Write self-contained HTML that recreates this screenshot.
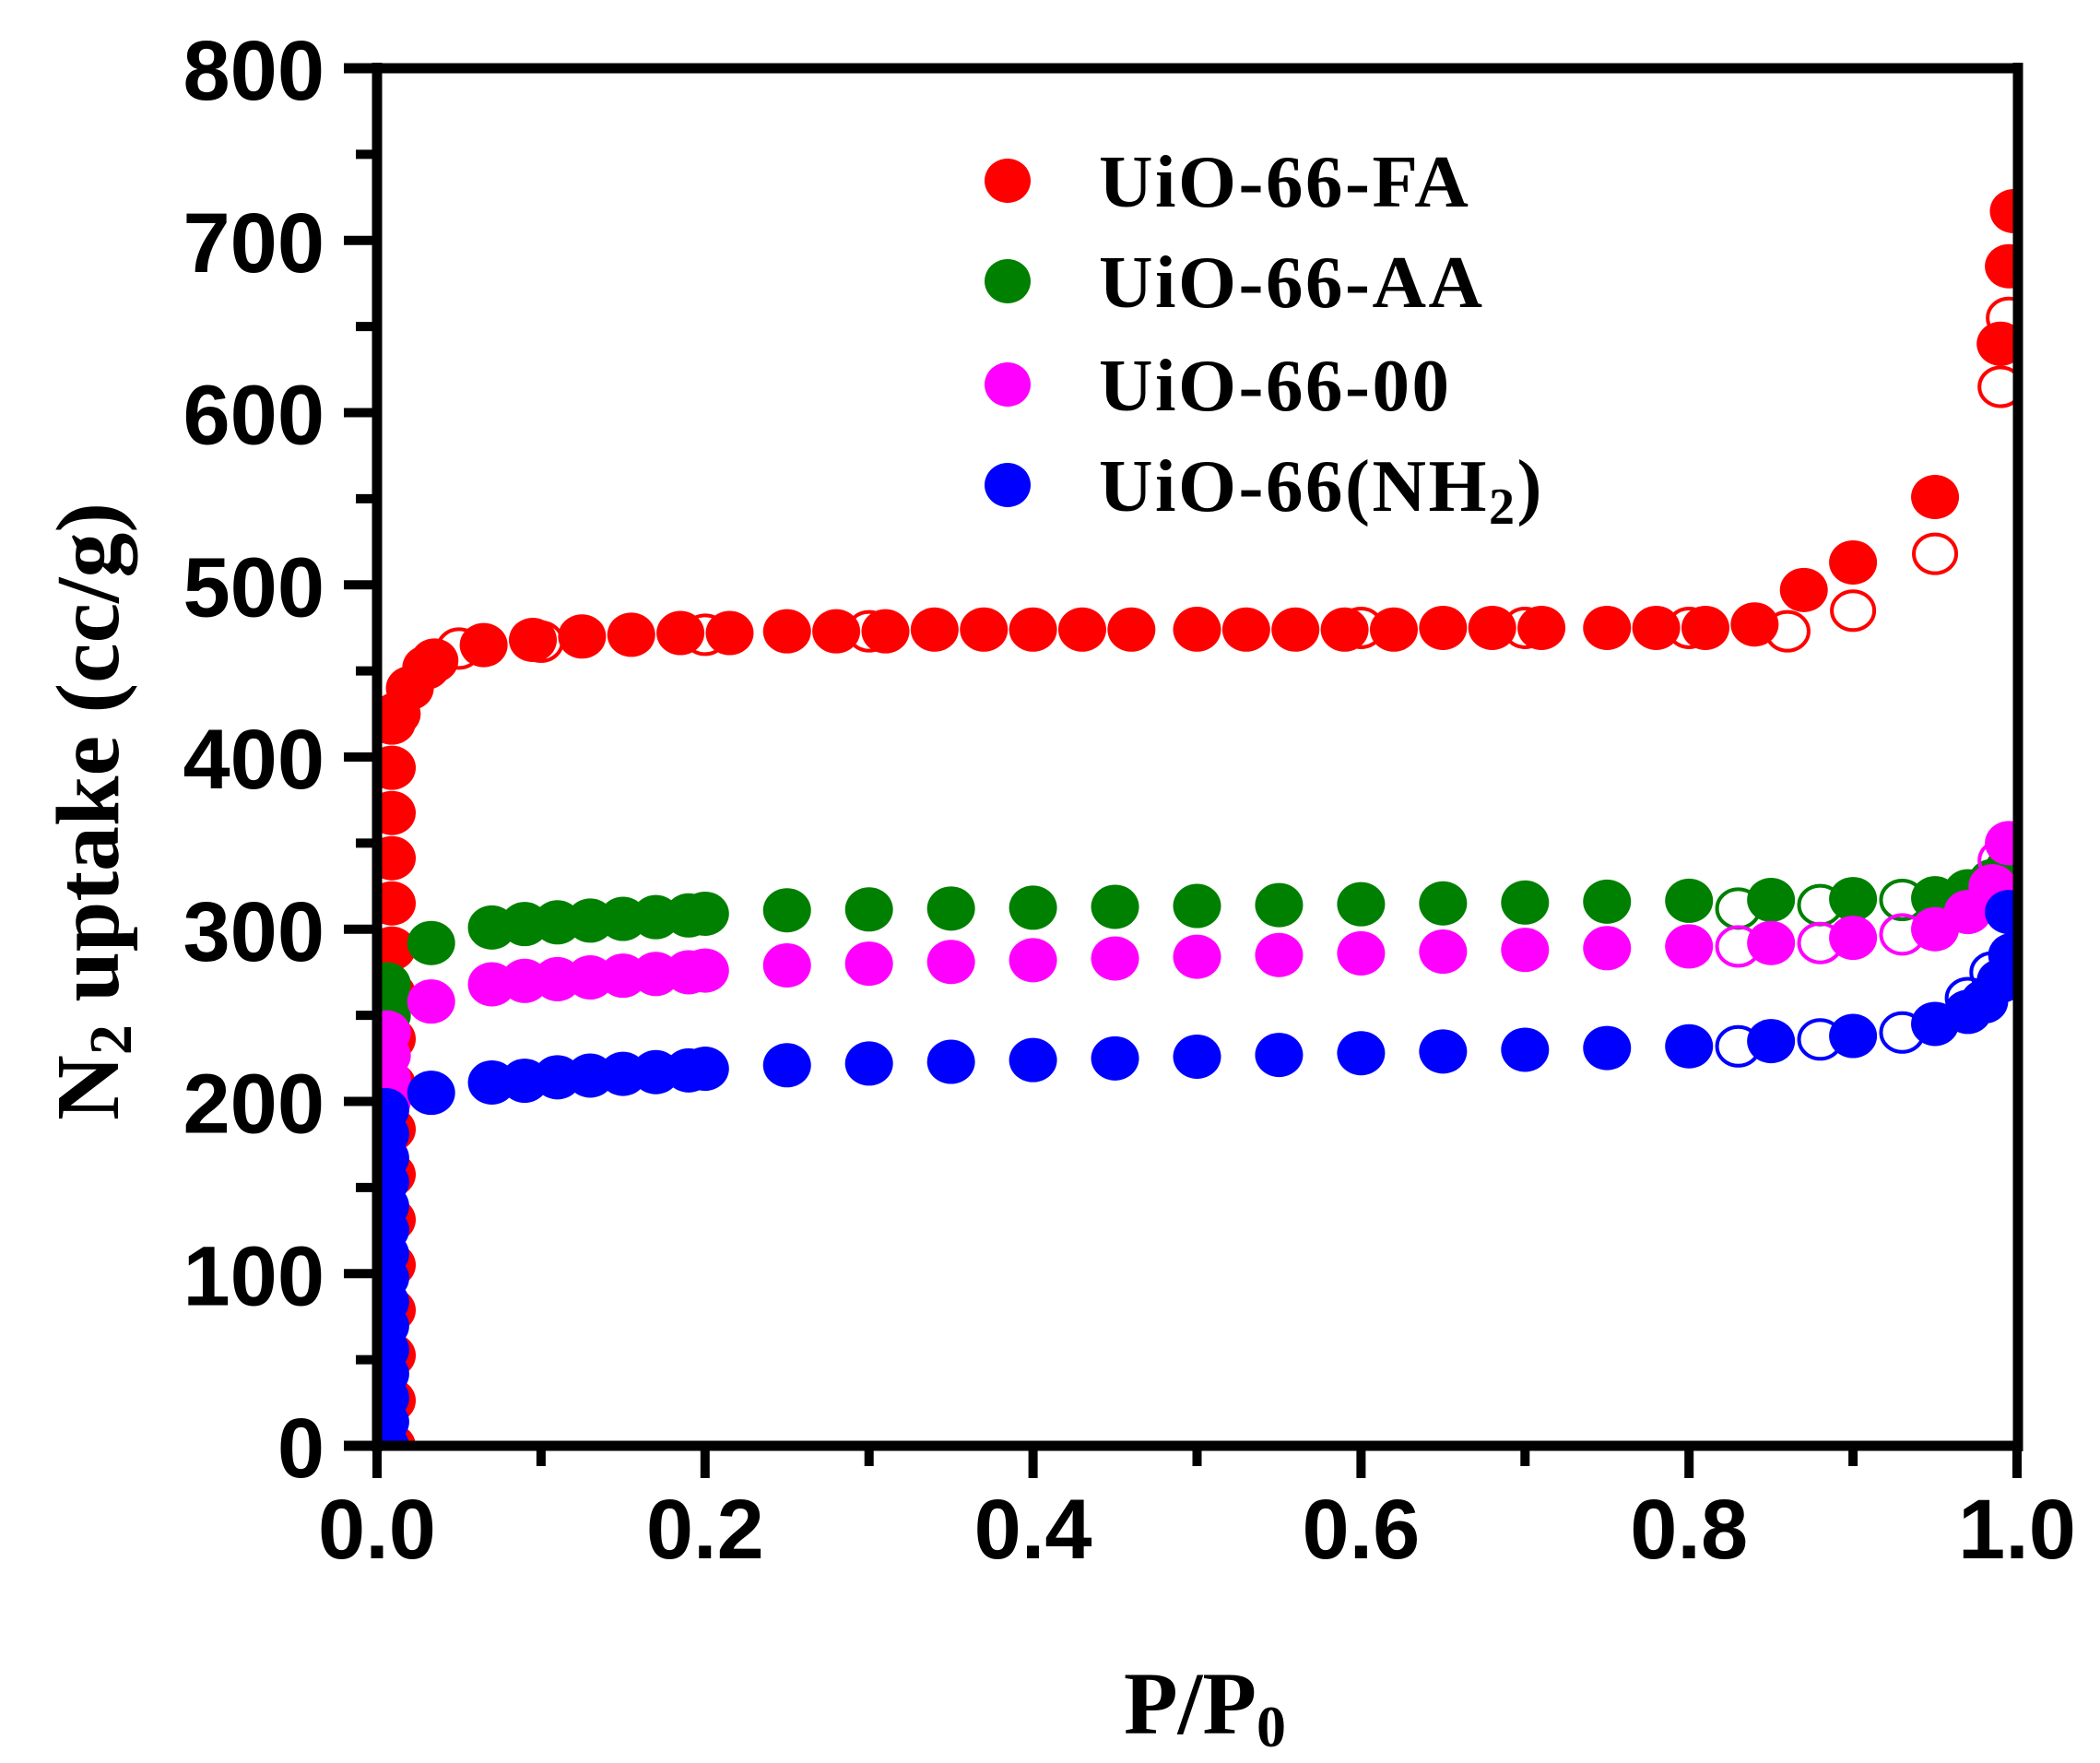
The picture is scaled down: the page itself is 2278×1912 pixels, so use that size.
<!DOCTYPE html>
<html><head><meta charset="utf-8"><style>
html,body{margin:0;padding:0;background:#fff;}
svg{display:block;}
.t{font-family:"Liberation Sans",sans-serif;font-weight:bold;font-size:92px;}
.s{font-family:"Liberation Serif",serif;font-weight:bold;}
</style></head><body>
<svg id="c" width="2278" height="1912" viewBox="0 0 2278 1912" xmlns="http://www.w3.org/2000/svg">
<defs><clipPath id="pa"><rect x="409" y="74" width="1780" height="1494"/></clipPath></defs>
<g id="data" clip-path="url(#pa)"></g>
<g stroke="#000" stroke-width="11" fill="none">
<line x1="373" y1="74" x2="2189" y2="74"/>
<line x1="373" y1="1568" x2="2194" y2="1568"/>
<line x1="409" y1="68" x2="409" y2="1574"/>
<line x1="2189" y1="68" x2="2189" y2="1574"/>
</g>
<g id="ticks" stroke="#000" stroke-width="10"></g>
<g class="t" text-anchor="end" id="yl"></g>
<g class="t" text-anchor="middle" id="xl"></g>
<text class="s" font-size="96" x="1307" y="1880" text-anchor="middle">P/P<tspan font-size="64" dy="14">0</tspan></text>
<text class="s" font-size="98" transform="translate(128,880) rotate(-90)" text-anchor="middle">N<tspan font-size="66" dy="14">2</tspan><tspan dy="-14"> uptake (cc/g)</tspan></text>
<g class="s" font-size="81" letter-spacing="2.5">
<ellipse cx="1093" cy="196" rx="25" ry="24" fill="#ff0000"/><text x="1192" y="224">UiO-66-FA</text>
<ellipse cx="1093" cy="305" rx="25" ry="24" fill="#008000"/><text x="1192" y="333">UiO-66-AA</text>
<ellipse cx="1093" cy="417" rx="25" ry="24" fill="#ff00ff"/><text x="1192" y="445">UiO-66-00</text>
<ellipse cx="1093" cy="526" rx="25" ry="24" fill="#0000ff"/><text x="1192" y="554">UiO-66(NH<tspan font-size="56" dy="14">2</tspan><tspan dy="-14">)</tspan></text>
</g>
</svg>
<script>
const NS="http://www.w3.org/2000/svg";
const X=p=>409+1779*p, Y=v=>1568-1.8675*v;
const g=document.getElementById('data');
function c(p,v,col,open){const e=document.createElementNS(NS,'ellipse');e.setAttribute('cx',X(p));e.setAttribute('cy',Y(v));e.setAttribute('rx',open?23:26);e.setAttribute('ry',open?21:24);
 if(open){e.setAttribute('fill','none');e.setAttribute('stroke',col);e.setAttribute('stroke-width',4);}else e.setAttribute('fill',col);g.appendChild(e);}
function col(p,v0,v1,colr,n){for(let i=0;i<=n;i++)c(p,v0+(v1-v0)*i/n,colr,false);}
const R='#ff0000';
[[0.05,463],[0.1,467],[0.2,471],[0.3,473],[0.4,474],[0.5,475],[0.6,475],[0.7,475],[0.8,475],[0.86,473],[0.9,485],[0.95,518],[0.99,615],[0.995,655]].forEach(a=>c(a[0],a[1],R,true));
col(0.009,0,420,R,16);
[[0.012,425],[0.02,440],[0.03,452],[0.035,456],[0.065,465],[0.095,468],[0.125,470],[0.155,471],[0.185,472],[0.215,472],[0.25,473],[0.28,473],[0.31,473],[0.34,474],[0.37,474],[0.4,474],[0.43,474],[0.46,474],[0.5,474],[0.53,474],[0.56,474],[0.59,474],[0.62,474],[0.65,475],[0.68,475],[0.71,475],[0.75,475],[0.78,475],[0.81,475],[0.84,477],[0.87,497],[0.9,513],[0.95,551],[0.99,640],[0.995,685],[0.998,717]].forEach(a=>c(a[0],a[1],R,false));
const G='#008000';
[[0.83,312],[0.88,314],[0.93,317]].forEach(a=>c(a[0],a[1],G,true));
col(0.006,250,268,G,2);
const gpts=[[0.033,292],[0.07,301],[0.09,303],[0.11,304],[0.13,305],[0.15,306],[0.17,307],[0.19,308],[0.2,309]];
for(let p=0.25;p<0.96;p+=0.05)gpts.push([p,311+(p-0.25)*10]);
gpts.push([0.97,322],[0.985,328],[0.995,335]);
gpts.forEach(a=>c(a[0],a[1],G,false));
const M='#ff00ff';
[[0.83,290],[0.88,292],[0.93,297],[0.99,340]].forEach(a=>c(a[0],a[1],M,true));
col(0.006,200,240,M,3);
const mpts=[[0.033,258],[0.07,268],[0.09,270],[0.11,271],[0.13,272],[0.15,273],[0.17,274],[0.19,275],[0.2,276]];
[[0.25,279],[0.3,280],[0.35,281],[0.4,282],[0.45,283],[0.5,284],[0.55,285],[0.6,286],[0.65,287],[0.7,288],[0.75,289],[0.8,290],[0.85,292],[0.9,295],[0.95,300],[0.97,310],[0.985,325],[0.995,350]].forEach(a=>mpts.push(a));
mpts.forEach(a=>c(a[0],a[1],M,false));
const B='#0000ff';
[[0.83,232],[0.88,236],[0.93,240],[0.97,260],[0.985,275]].forEach(a=>c(a[0],a[1],B,true));
col(0.005,0,195,B,14);
const bpts=[[0.033,205],[0.07,211],[0.09,212],[0.11,214],[0.13,215],[0.15,216],[0.17,217],[0.19,218],[0.2,219]];
[[0.25,221],[0.3,222],[0.35,223],[0.4,224],[0.45,225],[0.5,226],[0.55,227],[0.6,228],[0.65,229],[0.7,230],[0.75,231],[0.8,232],[0.85,235],[0.9,238],[0.95,245],[0.97,252],[0.98,258],[0.99,270],[0.997,285],[0.995,310]].forEach(a=>bpts.push(a));
bpts.forEach(a=>c(a[0],a[1],B,false));
const tk=document.getElementById('ticks'),yl=document.getElementById('yl'),xl=document.getElementById('xl');
function L(x1,y1,x2,y2){const e=document.createElementNS(NS,'line');e.setAttribute('x1',x1);e.setAttribute('y1',y1);e.setAttribute('x2',x2);e.setAttribute('y2',y2);tk.appendChild(e);}
function T(par,x,y,s){const e=document.createElementNS(NS,'text');e.setAttribute('x',x);e.setAttribute('y',y);e.textContent=s;par.appendChild(e);}
for(let v=0;v<=800;v+=50){const y=Y(v);if(v%100==0){L(373,y,409,y);T(yl,352,y+34,String(v));}else L(386,y,409,y);}
for(let i=0;i<=10;i++){const x=X(i/10);if(i%2==0){L(x,1568,x,1603);T(xl,x,1690,(i/10).toFixed(1));}else L(x,1568,x,1590);}
</script>
</body></html>
